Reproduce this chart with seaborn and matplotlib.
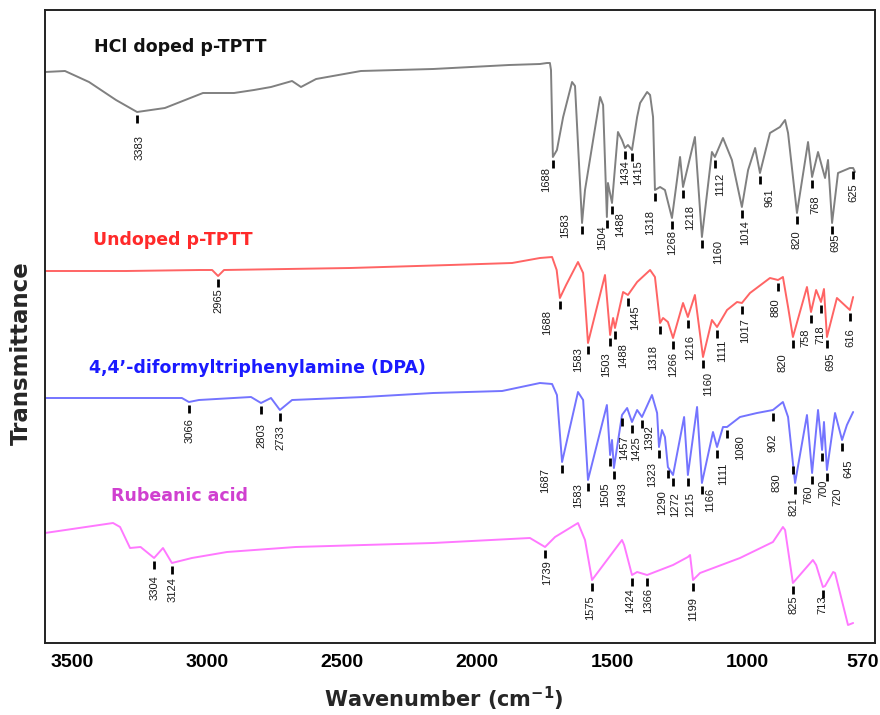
import numpy as np
import pandas as pd
import matplotlib
matplotlib.use("Agg")
import matplotlib.pyplot as plt
import seaborn as sns

# ---------------- data (wavenumber cm-1, transmittance in arbitrary offset units) -------------
hcl_wn = [3600, 3526, 3437, 3337, 3259, 3156, 3015, 2900, 2826, 2763, 2685, 2652, 2596, 2430, 2163,
          1881, 1767, 1741, 1730, 1726, 1719, 1704, 1681, 1648, 1637, 1611, 1600, 1570, 1544, 1533,
          1519, 1515, 1500, 1478, 1463, 1452, 1441, 1426, 1407, 1396, 1370, 1359, 1348, 1341, 1322,
          1304, 1278, 1248, 1237, 1193, 1167, 1130, 1119, 1089, 1056, 1019, 996, 970, 952, 915,
          878, 859, 848, 815, 774, 759, 737, 711, 700, 685, 663, 619, 607, 600]
hcl_t = [571, 572, 561, 543, 531, 535, 550, 550, 553, 556, 562, 556, 564, 572, 574,
         578, 579, 580, 580, 573, 486, 493, 526, 561, 557, 420, 453, 503, 546, 538,
         426, 460, 440, 511, 503, 495, 498, 493, 526, 540, 551, 548, 526, 453, 456,
         453, 425, 486, 456, 506, 406, 491, 486, 505, 483, 436, 473, 495, 470, 510,
         516, 523, 510, 430, 501, 466, 491, 465, 483, 420, 470, 475, 475, 471]
hcl_peak_labels = ["3383", "1688", "1583", "1504", "1488", "1434", "1415", "1318", "1268", "1218",
                   "1160", "1112", "1014", "961", "820", "768", "695", "625"]
hcl_peak_wn = [3259, 1719, 1611, 1519, 1500, 1452, 1426, 1341, 1278, 1237,
               1167, 1119, 1019, 952, 815, 759, 685, 607]

und_wn = [3600, 3300, 3026, 2981, 2959, 2937, 2470, 2100, 1870, 1767, 1722, 1705, 1693, 1670, 1626,
          1607, 1589, 1526, 1507, 1496, 1489, 1459, 1441, 1407, 1359, 1341, 1322, 1311, 1293, 1274,
          1237, 1219, 1193, 1163, 1130, 1111, 1074, 1037, 1019, 989, 915, 885, 867, 848, 830,
          778, 763, 744, 726, 715, 704, 667, 619, 607]
und_t = [372, 372, 373, 373, 367, 373, 375, 378, 380, 385, 386, 373, 345, 358, 381,
         370, 300, 368, 308, 325, 315, 351, 348, 361, 373, 366, 320, 325, 321, 305,
         340, 326, 348, 286, 323, 316, 333, 341, 340, 350, 365, 363, 366, 336, 306,
         356, 331, 353, 341, 354, 306, 345, 333, 346]
und_peak_labels = ["2965", "1688", "1583", "1503", "1488", "1445", "1318", "1266", "1216", "1160",
                   "1111", "1017", "880", "820", "758", "718", "695", "616"]
und_peak_wn = [2959, 1693, 1589, 1507, 1489, 1441, 1322, 1274, 1219, 1163,
               1111, 1019, 885, 830, 763, 726, 704, 619]

dpa_wn = [3600, 3093, 3067, 3030, 2837, 2800, 2763, 2730, 2685, 2419, 2163, 1907, 1767, 1722, 1704,
          1685, 1626, 1607, 1589, 1519, 1507, 1500, 1493, 1463, 1444, 1426, 1407, 1389, 1352, 1333,
          1326, 1315, 1304, 1293, 1274, 1233, 1219, 1185, 1167, 1126, 1111, 1089, 1074, 1026, 963,
          904, 867, 848, 830, 822, 778, 759, 737, 722, 715, 704, 674, 648, 630, 607]
dpa_t = [245, 245, 241, 243, 246, 240, 245, 233, 243, 246, 250, 252, 260, 259, 248,
         181, 251, 243, 163, 238, 188, 203, 175, 228, 235, 221, 233, 226, 248, 230,
         196, 213, 206, 176, 168, 226, 168, 236, 160, 211, 196, 216, 216, 226, 230,
         233, 241, 226, 180, 160, 228, 170, 233, 193, 221, 173, 230, 203, 218, 231]
dpa_peak_labels = ["3066", "2803", "2733", "1687", "1583", "1505", "1493", "1457", "1425", "1392",
                   "1323", "1290", "1272", "1215", "1166", "1111", "1080", "902", "830", "821",
                   "760", "700", "720", "645"]
dpa_peak_wn = [3067, 2800, 2730, 1685, 1589, 1507, 1493, 1463, 1426, 1389,
               1326, 1293, 1274, 1219, 1167, 1111, 1074, 904, 830, 822,
               759, 722, 704, 648]

rub_wn = [3600, 3348, 3322, 3285, 3246, 3196, 3163, 3130, 3056, 2926, 2672, 2419, 2163, 1804, 1748,
          1711, 1626, 1600, 1574, 1463, 1455, 1426, 1407, 1370, 1274, 1219, 1211, 1200, 1174, 1026,
          904, 867, 859, 830, 756, 744, 719, 711, 681, 674, 626, 607]
rub_t = [110, 120, 116, 95, 96, 85, 95, 80, 85, 91, 96, 98, 100, 105, 96,
         106, 120, 103, 63, 103, 98, 68, 71, 68, 78, 86, 88, 63, 70, 85,
         101, 116, 113, 60, 83, 78, 56, 57, 71, 70, 18, 20]
rub_peak_labels = ["3304", "3124", "1739", "1575", "1424", "1366", "1199", "825", "713"]
rub_peak_wn = [3196, 3130, 1748, 1574, 1426, 1370, 1200, 830, 719]

series_names = ["HCl doped p-TPTT", "Undoped p-TPTT", "4,4\u2019-diformyltriphenylamine (DPA)", "Rubeanic acid"]
x_ticks = [3500, 3000, 2500, 2000, 1500, 1000, 570]

# ---------------- layout / style ----------------
W, H, DPI = 880, 715, 100
line_colors = ["#808080", "#ff6464", "#7474ff", "#ff78ff"]
name_colors = ["#111111", "#ff2a2a", "#1a1aff", "#d040d0"]
name_pos = [(0.059, 0.9415), (0.058, 0.637), (0.053, 0.434), (0.0795, 0.232)]
# label offsets (pixels) relative to default spot under the tick: (dx right, dy down)
hcl_off = [(2, 9), (-7, -4), (-17, -24), (-5, -6), (8, -5), (0, -2), (6, -4), (-5, 6), (0, -2), (7, 4),
           (16, -11), (5, 2), (3, -1), (10, 1), (0, 3), (3, 4), (3, -4), (0, 1)]
und_off = [(0, -2), (-13, -2), (-10, -10), (-4, 3), (8, 1), (7, -4), (-7, 8), (0, 0), (2, 4), (5, 1),
           (5, -1), (3, 1), (-3, 4), (-10, 2), (-6, 2), (-1, 9), (3, 1), (0, 4)]
dpa_off = [(1, 2), (0, 6), (1, 1), (-17, -8), (-10, -11), (-5, 13), (8, 0), (2, 6), (4, 0), (7, -6),
           (-7, 1), (-6, 9), (2, 3), (2, 3), (8, -9), (6, 2), (13, -6), (0, 9), (-16, -4), (-2, 0),
           (-4, -2), (1, 16), (10, 3), (6, 6)]
rub_off = [(0, 3), (1, 0), (2, -1), (-2, 1), (-2, -1), (1, -1), (0, 3), (1, -2), (0, -6)]

sns.set_theme(style="white")
plt.rcParams['font.family'] = ['DejaVu Sans']

fig = plt.figure(figsize=(W / DPI, H / DPI), dpi=DPI)
ax = fig.add_axes([45 / W, 72 / H, 830 / W, 633 / H])

frames = []
for name, wn, t in zip(series_names, [hcl_wn, und_wn, dpa_wn, rub_wn], [hcl_t, und_t, dpa_t, rub_t]):
    frames.append(pd.DataFrame({"wn": wn, "T": t, "sample": name}))
df = pd.concat(frames, ignore_index=True)

for name, col in zip(series_names, line_colors):
    sub = df[df["sample"] == name]
    sns.lineplot(data=sub, x="wn", y="T", ax=ax, color=col, lw=1.4, sort=False, estimator=None)


def mark_peaks(wn, t, labels, pos, offs):
    xs = np.array(wn, dtype=float)[::-1]
    ys = np.array(t, dtype=float)[::-1]
    for lab, p, (dx, dy) in zip(labels, pos, offs):
        yc = np.interp(p, xs, ys)
        ax.plot([p, p], [yc - 3, yc - 11], color="black", lw=2.0, solid_capstyle="butt")
        ax.annotate(lab, xy=(p, yc - 14), xytext=(dx, -dy), textcoords="offset pixels",
                    rotation=90, ha="center", va="top", fontsize=8, color="#1a1a1a",
                    family="Liberation Sans")


mark_peaks(hcl_wn, hcl_t, hcl_peak_labels, hcl_peak_wn, hcl_off)
mark_peaks(und_wn, und_t, und_peak_labels, und_peak_wn, und_off)
mark_peaks(dpa_wn, dpa_t, dpa_peak_labels, dpa_peak_wn, dpa_off)
mark_peaks(rub_wn, rub_t, rub_peak_labels, rub_peak_wn, rub_off)

for name, col, (px, py) in zip(series_names, name_colors, name_pos):
    ax.text(px, py, name, transform=ax.transAxes, color=col, fontsize=12.5,
            fontweight="bold", ha="left", va="center")

ax.set_xlim(3600, 526)
ax.set_ylim(0, 633)
ax.set_xticks(x_ticks)
ax.set_xticklabels([str(v) for v in x_ticks], fontsize=14, fontweight="bold", family="Liberation Sans")
ax.set_yticks([])
ax.tick_params(axis="x", length=3, direction="in", pad=8, colors="black")
ax.set_xlabel("Wavenumber (cm$^{\\mathbf{-1}}$)", fontsize=15, fontweight="bold")
ax.xaxis.set_label_coords(0.4807, -0.066)
ax.set_ylabel("Transmittance", fontsize=16.5, fontweight="bold")
ax.yaxis.set_label_coords(-0.0145, 0.458)
for s in ax.spines.values():
    s.set_color("#222222")
    s.set_linewidth(1.4)

fig.savefig("out.png", dpi=DPI)
